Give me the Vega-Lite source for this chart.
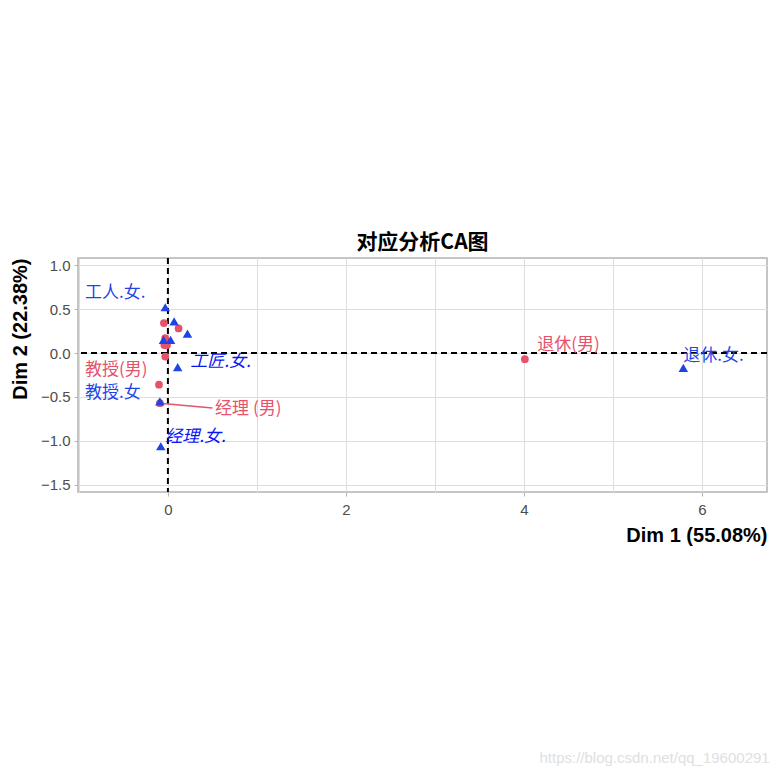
{
  "$schema": "https://vega.github.io/schema/vega-lite/v6.json",
  "autosize": {"type": "none"},
  "width": 689,
  "height": 234,
  "padding": {"left": 78, "top": 258, "right": 11, "bottom": 285},
  "background": "white",
  "config": {
    "view": {"stroke": "#B3B3B3", "strokeWidth": 1.5},
    "font": "Liberation Sans"
  },
  "title": {
    "text": "对应分析CA图",
    "font": "Noto Sans CJK SC",
    "fontSize": 21,
    "fontWeight": "bold",
    "color": "black",
    "anchor": "middle",
    "offset": 4
  },
  "datasets": {
    "points": [
      {"type": "男", "x": -0.045, "y": 0.34},
      {"type": "男", "x": 0.12, "y": 0.28},
      {"type": "男", "x": -0.03, "y": 0.17},
      {"type": "男", "x": -0.04, "y": 0.09},
      {"type": "男", "x": -0.01, "y": 0.09},
      {"type": "男", "x": -0.03, "y": -0.04},
      {"type": "男", "x": -0.10, "y": -0.36},
      {"type": "男", "x": -0.09, "y": -0.57},
      {"type": "男", "x": 4.01, "y": -0.07},
      {"type": "女", "x": -0.03, "y": 0.52},
      {"type": "女", "x": 0.07, "y": 0.36},
      {"type": "女", "x": 0.22, "y": 0.22},
      {"type": "女", "x": -0.05, "y": 0.15},
      {"type": "女", "x": 0.03, "y": 0.15},
      {"type": "女", "x": 0.11, "y": -0.16},
      {"type": "女", "x": -0.09, "y": -0.55},
      {"type": "女", "x": -0.08, "y": -1.06},
      {"type": "女", "x": 5.79, "y": -0.17}
    ],
    "labels": [
      {"label": "工人.女.", "type": "女", "x": -0.93, "y": 0.68},
      {"label": "教授(男)", "type": "男", "x": -0.93, "y": -0.19},
      {"label": "教授.女", "type": "女", "x": -0.93, "y": -0.45},
      {"label": "工匠.女.", "type": "女i", "x": 0.25, "y": -0.10},
      {"label": "经理 (男)", "type": "男", "x": 0.53, "y": -0.64},
      {"label": "经理.女.", "type": "女i", "x": -0.03, "y": -0.95},
      {"label": "退休(男)", "type": "男", "x": 4.15, "y": 0.09},
      {"label": "退休.女.", "type": "女", "x": 5.79, "y": -0.03}
    ],
    "segments": [
      {"x": -0.09, "y": -0.57, "x2": 0.5, "y2": -0.625}
    ],
    "refs": [
      {"v": 0}
    ]
  },
  "layer": [
    {
      "data": {"name": "points"},
      "mark": {"type": "point", "filled": true, "opacity": 0},
      "encoding": {
        "x": {
          "field": "x", "type": "quantitative",
          "scale": {"domain": [-1.01, 6.73], "nice": false, "zero": false},
          "axis": {
            "grid": true,
            "values": [-1, 0, 1, 2, 3, 4, 5, 6],
            "labelExpr": "datum.value % 2 === 0 ? datum.label : ''",
            "format": "d",
            "title": "Dim 1 (55.08%)",
            "titleFont": "Liberation Sans",
            "titleFontSize": 20,
            "titleFontWeight": "bold",
            "titleColor": "black",
            "titleAnchor": "end",
            "titlePadding": 8,
            "labelFont": "Liberation Sans",
            "labelFontSize": 15,
            "labelColor": "#4D4D4D",
            "labelPadding": 6,
            "domain": false,
            "tickColor": "#B3B3B3",
            "tickSize": 4,
            "tickOpacity": {"condition": {"test": "datum.value % 2 === 0", "value": 1}, "value": 0},
            "gridColor": "#DEDEDE",
            "gridWidth": 1,
            "gridOpacity": 1
          }
        },
        "y": {
          "field": "y", "type": "quantitative",
          "scale": {"domain": [-1.58, 1.08], "nice": false, "zero": false},
          "axis": {
            "grid": true,
            "values": [-1.5, -1.25, -1, -0.75, -0.5, -0.25, 0, 0.25, 0.5, 0.75, 1],
            "labelExpr": "abs(datum.value * 2 - round(datum.value * 2)) < 0.001 ? format(datum.value, '.1f') : ''",
            "title": "Dim 2 (22.38%)",
            "titleFont": "Liberation Sans",
            "titleFontSize": 20,
            "titleFontWeight": "bold",
            "titleColor": "black",
            "titleAnchor": "end",
            "titlePadding": 10,
            "labelFont": "Liberation Sans",
            "labelFontSize": 15,
            "labelColor": "#4D4D4D",
            "labelPadding": 4,
            "domain": false,
            "tickColor": "#B3B3B3",
            "tickSize": 4,
            "tickOpacity": {"condition": {"test": "abs(datum.value * 2 - round(datum.value * 2)) < 0.001", "value": 1}, "value": 0},
            "gridColor": "#DEDEDE",
            "gridWidth": 1,
            "gridOpacity": 1
          }
        }
      }
    },
    {
      "data": {"name": "refs"},
      "mark": {"type": "rule", "strokeDash": [6, 4], "strokeWidth": 2, "color": "black"},
      "encoding": {
        "x": {"field": "v", "type": "quantitative"}
      }
    },
    {
      "data": {"name": "refs"},
      "mark": {"type": "rule", "strokeDash": [6, 4], "strokeWidth": 2, "color": "black"},
      "encoding": {
        "y": {"field": "v", "type": "quantitative"}
      }
    },
    {
      "data": {"name": "segments"},
      "mark": {"type": "rule", "color": "#E6526A", "strokeWidth": 1.5},
      "encoding": {
        "x": {"field": "x", "type": "quantitative"},
        "y": {"field": "y", "type": "quantitative"},
        "x2": {"field": "x2"},
        "y2": {"field": "y2"}
      }
    },
    {
      "data": {"name": "points"},
      "mark": {"type": "point", "filled": true, "opacity": 1},
      "encoding": {
        "x": {"field": "x", "type": "quantitative"},
        "y": {"field": "y", "type": "quantitative"},
        "shape": {
          "field": "type", "type": "nominal",
          "scale": {"domain": ["男", "女"], "range": ["circle", "triangle-up"]},
          "legend": null
        },
        "size": {
          "field": "type", "type": "nominal",
          "scale": {"domain": ["男", "女"], "range": [60, 90]},
          "legend": null
        },
        "color": {
          "field": "type", "type": "nominal",
          "scale": {"domain": ["男", "女"], "range": ["#E6526A", "#1F44E6"]},
          "legend": null
        }
      }
    },
    {
      "data": {"name": "labels"},
      "transform": [{"filter": "datum.type !== '女i'"}],
      "mark": {"type": "text", "font": "Noto Sans CJK SC", "fontSize": 17, "align": "left", "baseline": "middle"},
      "encoding": {
        "x": {"field": "x", "type": "quantitative"},
        "y": {"field": "y", "type": "quantitative"},
        "text": {"field": "label"},
        "color": {
          "field": "type", "type": "nominal",
          "scale": {"domain": ["男", "女"], "range": ["#E6526A", "#1F44E6"]},
          "legend": null
        }
      }
    },
    {
      "data": {"name": "labels"},
      "transform": [{"filter": "datum.type === '女i'"}],
      "mark": {"type": "text", "font": "Noto Sans CJK SC", "fontSize": 17, "fontStyle": "italic", "align": "left", "baseline": "middle", "color": "#0A14F5"},
      "encoding": {
        "x": {"field": "x", "type": "quantitative"},
        "y": {"field": "y", "type": "quantitative"},
        "text": {"field": "label"}
      }
    },
    {
      "data": {"name": "refs"},
      "mark": {"type": "text", "font": "Liberation Sans", "fontSize": 15, "align": "right", "baseline": "middle", "color": "#E0E0E0"},
      "encoding": {
        "x": {"datum": 6.76, "type": "quantitative"},
        "y": {"datum": -4.6, "type": "quantitative"},
        "text": {"value": "https://blog.csdn.net/qq_19600291"}
      }
    }
  ]
}
